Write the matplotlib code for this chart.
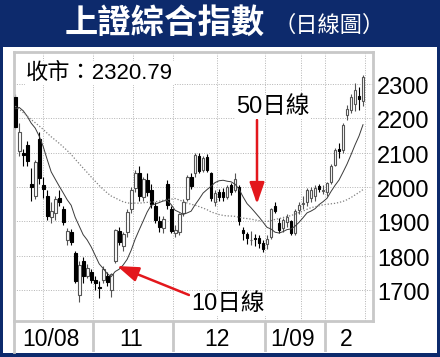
import numpy as np
import pandas as pd
import matplotlib
matplotlib.use('Agg')
import matplotlib.pyplot as plt
import matplotlib.transforms as mtransforms
from matplotlib.patches import Rectangle

plt.rcParams['font.family'] = ['Liberation Sans', 'Noto Sans CJK TC', 'DejaVu Sans']

# ---- data (上證綜合指數, daily, 2008/10/06 - 2009/02/13) ----
month_labels = ['10/08', '11', '12', '1/09', '2']
month_days = [20, 20, 23, 15, 10]
y_ticks = [1700, 1800, 1900, 2000, 2100, 2200, 2300]
last_close = '2320.79'

open_ = [2262, 2105, 2100, 2122, 2008, 1975, 2140, 2005, 1975, 1912,
         1925, 1968, 1935, 1845, 1870, 1808, 1685, 1785, 1742, 1752,
         1730, 1710, 1730, 1740, 1700, 1785, 1872, 1828, 1868, 1935,
         1998, 2040, 1970, 2020, 1990, 1945, 1900, 1880, 2010, 1935,
         1865, 1870, 1925, 1965, 2030, 2040, 2090, 2050, 2087, 2040,
         1955, 1985, 1985, 1972, 2005, 1990, 2000, 1875, 1862, 1845,
         1852, 1853, 1838, 1835, 1855, 1945, 1895, 1880, 1898, 1900,
         1865, 1932, 1950, 1955, 1968, 1975, 2002, 1988, 1985, 2015,
         2065, 2112, 2108, 2210, 2225, 2242, 2265, 2250]
high = [2270, 2185, 2110, 2135, 2055, 2080, 2160, 2030, 1990, 1955,
        1975, 1990, 1945, 1880, 1878, 1815, 1785, 1795, 1775, 1760,
        1740, 1725, 1770, 1752, 1750, 1878, 1885, 1870, 1935, 2000,
        2050, 2060, 2030, 2040, 2010, 1955, 1915, 1915, 2020, 1945,
        1890, 1925, 1965, 2035, 2040, 2098, 2100, 2090, 2095, 2045,
        1990, 1995, 1998, 2005, 2012, 2040, 2005, 1885, 1870, 1872,
        1862, 1860, 1845, 1860, 1940, 1955, 1910, 1910, 1920, 1905,
        1935, 1955, 1975, 1998, 2000, 2005, 2010, 2005, 2015, 2068,
        2115, 2128, 2185, 2240, 2270, 2302, 2290, 2325]
low = [2168, 2090, 2060, 2062, 1960, 1965, 2010, 1968, 1905, 1895,
       1905, 1945, 1890, 1830, 1830, 1720, 1665, 1720, 1735, 1720,
       1700, 1678, 1722, 1712, 1680, 1780, 1830, 1815, 1855, 1925,
       1985, 1960, 1960, 1975, 1940, 1895, 1870, 1865, 1935, 1865,
       1855, 1860, 1915, 1960, 1995, 2030, 2040, 2045, 2045, 1960,
       1945, 1960, 1960, 1965, 1978, 1985, 1890, 1845, 1835, 1830,
       1828, 1822, 1810, 1820, 1850, 1925, 1865, 1870, 1885, 1860,
       1860, 1920, 1935, 1945, 1955, 1960, 1985, 1980, 1975, 2010,
       2060, 2085, 2100, 2195, 2215, 2220, 2225, 2235]
close = [2174, 2160, 2093, 2075, 2001, 2073, 2025, 1995, 1915, 1930,
         1965, 1955, 1898, 1872, 1840, 1725, 1772, 1740, 1763, 1729,
         1720, 1706, 1762, 1724, 1748, 1875, 1840, 1862, 1928, 1992,
         2042, 1975, 2022, 1985, 1950, 1905, 1885, 1908, 1947, 1871,
         1876, 1920, 1955, 2028, 2002, 2092, 2048, 2085, 2050, 1968,
         1982, 1972, 1970, 2000, 1985, 2022, 1900, 1865, 1852, 1847,
         1848, 1836, 1821, 1849, 1937, 1930, 1876, 1905, 1912, 1865,
         1930, 1948, 1954, 1990, 1990, 1998, 1995, 1991, 2012, 2062,
         2107, 2105, 2181, 2226, 2262, 2283, 2255, 2320.79]
# earlier closes (Aug-Sep 2008), only used to warm up the moving averages
pre_close = [2600, 2580, 2560, 2540, 2520, 2500, 2490, 2470, 2450, 2440,
             2430, 2420, 2410, 2400, 2420, 2410, 2400, 2390, 2380,
             2350, 2330, 2300, 2260, 2200, 2150, 2140, 2130, 2080, 2070,
             2000, 1990, 1960, 1930, 1900, 1860, 1800, 1790, 1820, 1830, 1780,
             2120, 2190, 2236, 2201, 2216, 2260, 2297, 2293, 2290]

W, H = 440, 357
NAVY = '#0d2a6c'
GRID = '#b4b4b4'
FRAME = '#c8c8c8'
RED = '#e3171c'

def fx(x):
    return x / W

def fy(y):
    return 1 - y / H

o = np.array(open_, dtype=float)
h = np.array(high, dtype=float)
l = np.array(low, dtype=float)
c = np.array(close, dtype=float)
idx = np.arange(len(c))

all_close = pd.Series(pre_close + close, dtype=float)
ma10 = all_close.rolling(10).mean().iloc[len(pre_close):].to_numpy()
ma50 = all_close.rolling(50).mean().iloc[len(pre_close):].to_numpy()

fig = plt.figure(figsize=(W / 100, H / 100), dpi=100, facecolor=NAVY)
fig.patches.append(Rectangle((fx(3), fy(353)), fx(434), (353 - 47) / H,
                             transform=fig.transFigure, facecolor='white',
                             edgecolor='none', zorder=-5))

# title
fig.text(fx(165), fy(23), '上證綜合指數', color='white', fontsize=24,
         fontweight='heavy', family=['Noto Sans CJK TC'], ha='center', va='center')
fig.text(fx(273), fy(25), '（日線圖）', color='white', fontsize=16,
         family=['Noto Sans CJK TC'], ha='left', va='center')

# price panel
ax = fig.add_axes([fx(14), fy(321), fx(359), 269 / H])
ax.set_xlim(-0.3, 89.5)
ax.set_ylim(1610, 2393)
for s in ax.spines.values():
    s.set_color(FRAME)
    s.set_linewidth(2)
ax.set_xticks([])
ax.set_yticks([])

for v in y_ticks:
    ax.axhline(v, color=GRID, lw=0.7, ls=(0, (1, 1.5)), zorder=1)
grid_x = [7, 19.5, 29.5, 39.5, 50.5, 62.5, 71.5, 77.5, 87.5]
for gx in grid_x:
    ax.axvline(gx, color=GRID, lw=0.7, ls=(0, (1, 1.5)), zorder=1)

up = c >= o
ax.vlines(idx[up], l[up], h[up], color='#555555', lw=0.8, zorder=2)
ax.vlines(idx[~up], l[~up], h[~up], color='black', lw=0.8, zorder=2)
ax.bar(idx[up], c[up] - o[up], bottom=o[up], width=0.7, color='white',
       edgecolor='#555555', lw=0.8, zorder=3)
ax.bar(idx[~up], o[~up] - c[~up], bottom=c[~up], width=0.7, color='black',
       edgecolor='black', lw=0.8, zorder=3)

ax.plot(idx, ma10, color='#3a3a3a', lw=0.7, zorder=4)
ax.plot(idx, ma50, color='#808080', lw=0.9, ls=(0, (1, 1.5)), zorder=4)

# right-side price labels
trans = mtransforms.blended_transform_factory(ax.transAxes, ax.transData)
trans = mtransforms.offset_copy(trans, fig=fig, x=0, y=-4, units='dots')
for v in y_ticks:
    ax.text((377 - 14) / 359, v, str(v), transform=trans, fontsize=17,
            ha='left', va='center', clip_on=False)

# date strip
ax2 = fig.add_axes([fx(14), fy(352), fx(359), 31 / H], sharex=ax)
ax2.set_ylim(0, 1)
for name, s in ax2.spines.items():
    s.set_visible(name == 'left')
    s.set_color(FRAME)
    s.set_linewidth(2)
ax2.set_xticks([])
ax2.set_yticks([])
ax2.patch.set_alpha(0)
edges = np.concatenate([[-0.3], np.cumsum(month_days) - 0.5])
edges[-1] = 89.5
for e in edges[1:-1]:
    ax2.axvline(e, color=FRAME, lw=2)
for lab, a, b in zip(month_labels, edges[:-1], edges[1:]):
    ax2.text((a + b) / 2 - 0.6, 0.4, lab, fontsize=16.5, ha='center', va='center')

# annotations
fig.text(fx(26), fy(73), '收市：' + last_close, fontsize=16, ha='left', va='center',
         bbox=dict(facecolor='white', edgecolor='none', pad=1), zorder=6)
fig.text(fx(236), fy(107), '50日線', fontsize=17, ha='left', va='center',
         bbox=dict(facecolor='white', edgecolor='none', pad=1), zorder=6)
fig.text(fx(191), fy(304), '10日線', fontsize=17, ha='left', va='center',
         bbox=dict(facecolor='white', edgecolor='none', pad=1), zorder=6)

arrow = dict(arrowstyle='-|>,head_length=1.3,head_width=0.45', color=RED, lw=1.8,
             shrinkA=0, shrinkB=0)
ax.annotate('', xy=(257, H - 204), xytext=(257, H - 120), xycoords='figure pixels',
            textcoords='figure pixels', arrowprops=arrow, zorder=7)
ax.annotate('', xy=(117, H - 266), xytext=(189, H - 295), xycoords='figure pixels',
            textcoords='figure pixels', arrowprops=arrow, zorder=7)

fig.savefig('out.png', dpi=100, facecolor=NAVY)
